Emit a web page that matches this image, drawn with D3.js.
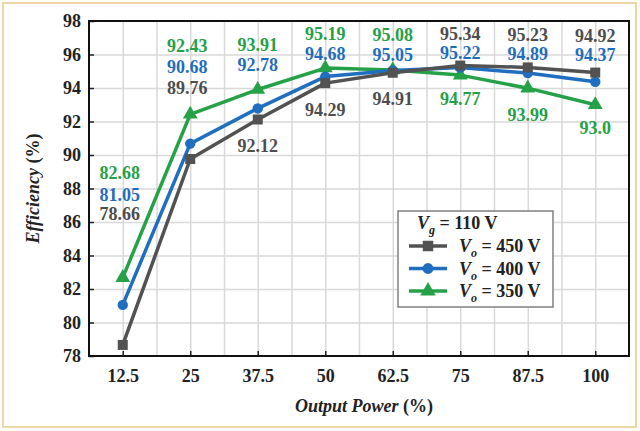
<!DOCTYPE html>
<html>
<head>
<meta charset="utf-8">
<script src="https://cdn.jsdelivr.net/npm/d3@7"></script>
<style>
  html, body { margin: 0; padding: 0; background: #ffffff; }
  svg { display: block; }
  text { font-family: "Liberation Serif", "Times New Roman", serif; font-weight: bold; }
</style>
</head>
<body>
<svg id="chart" width="640" height="431"></svg>
<script>
// ---- data ----
const categories = [12.5, 25, 37.5, 50, 62.5, 75, 87.5, 100];
const yTicks = [78, 80, 82, 84, 86, 88, 90, 92, 94, 96, 98];
const vo450 = [78.66, 89.76, 92.12, 94.29, 94.91, 95.34, 95.23, 94.92];
const vo400 = [81.05, 90.68, 92.78, 94.68, 95.05, 95.22, 94.89, 94.37];
const vo350 = [82.68, 92.43, 93.91, 95.19, 95.08, 94.77, 93.99, 93.0];
const labels450 = ["78.66", "89.76", "92.12", "94.29", "94.91", "95.34", "95.23", "94.92"];
const labels400 = ["81.05", "90.68", "92.78", "94.68", "95.05", "95.22", "94.89", "94.37"];
const labels350 = ["82.68", "92.43", "93.91", "95.19", "95.08", "94.77", "93.99", "93.0"];
// label placement (centre of text, in efficiency units)
const labelAt450 = [86.48, 94.0, 90.54, 92.69, 93.34, 97.22, 97.16, 97.10];
const labelAt400 = [87.61, 95.25, 95.37, 96.03, 95.97, 96.09, 96.03, 95.97];
const labelAt350 = [88.93, 96.51, 96.57, 97.22, 97.16, 93.34, 92.39, 91.61];

const series = [
  { name: "350", values: vo350, labels: labels350, labelAt: labelAt350, color: "#25a247", text: "#25a046", symbol: d3.symbolTriangle, size: 95 },
  { name: "400", values: vo400, labels: labels400, labelAt: labelAt400, color: "#1f6ec0", text: "#1f6dbd", symbol: d3.symbolCircle, size: 85 },
  { name: "450", values: vo450, labels: labels450, labelAt: labelAt450, color: "#525252", text: "#4d4d4d", symbol: d3.symbolSquare, size: 100 }
];

const svg = d3.select("#chart");
const pLeft = 89, pRight = 629, pTop = 21, pBottom = 356;
const x = d3.scaleLinear().domain([6.25, 106.25]).range([pLeft, pRight]);
const y = d3.scaleLinear().domain([78, 98]).range([pBottom, pTop]);

// outer border
svg.append("rect").attr("x", 3).attr("y", 3).attr("width", 633).attr("height", 424)
  .attr("fill", "#ffffff").attr("stroke", "#efd7a5").attr("stroke-width", 2);

// grid
const gridX = d3.range(12.5, 106, 6.25);
svg.append("g").attr("transform", `translate(0,${pBottom})`)
  .call(d3.axisBottom(x).tickValues(gridX).tickSize(-(pBottom - pTop)).tickFormat(""))
  .call(g => g.select(".domain").remove())
  .call(g => g.selectAll("line").attr("stroke", "#d9d9d9").attr("stroke-width", 1.5));
svg.append("g").attr("transform", `translate(${pLeft},0)`)
  .call(d3.axisLeft(y).tickValues(yTicks.slice(1, -1)).tickSize(-(pRight - pLeft)).tickFormat(""))
  .call(g => g.select(".domain").remove())
  .call(g => g.selectAll("line").attr("stroke", "#d9d9d9").attr("stroke-width", 1.5));

// axes
const yAxis = svg.append("g").attr("transform", `translate(${pLeft},0)`)
  .call(d3.axisLeft(y).tickValues(yTicks).tickSizeInner(-5).tickSizeOuter(0).tickPadding(8).tickFormat(d3.format("d")));
yAxis.select(".domain").remove();
yAxis.selectAll("line").attr("stroke", "#222").attr("stroke-width", 1.5);
yAxis.selectAll("text").attr("font-size", 18).attr("fill", "#222")
  .style("font-family", "'Liberation Serif', serif").style("font-weight", "bold");

const xAxis = svg.append("g").attr("transform", `translate(0,${pBottom})`)
  .call(d3.axisBottom(x).tickValues(categories).tickSizeInner(-5).tickSizeOuter(0).tickPadding(13).tickFormat(d => String(d)));
xAxis.select(".domain").remove();
xAxis.selectAll("line").attr("stroke", "#222").attr("stroke-width", 1.5);
xAxis.selectAll("text").attr("font-size", 18).attr("fill", "#222")
  .style("font-family", "'Liberation Serif', serif").style("font-weight", "bold");

// series lines
const line = d3.line().x((d, i) => x(categories[i])).y(d => y(d));
series.forEach(s => {
  svg.append("path").datum(s.values).attr("d", line)
    .attr("fill", "none").attr("stroke", s.color).attr("stroke-width", 3.5).attr("stroke-linejoin", "round");
  svg.append("g").selectAll("path").data(s.values).join("path")
    .attr("transform", (d, i) => `translate(${x(categories[i])},${y(d)})`)
    .attr("d", d3.symbol().type(s.symbol).size(s.size))
    .attr("fill", s.color);
});

// data labels
series.forEach(s => {
  svg.append("g").selectAll("text").data(s.labels).join("text")
    .attr("x", (d, i) => x(categories[i]) - (i < 2 ? 3 : 0))
    .attr("y", (d, i) => y(s.labelAt[i]))
    .attr("dy", "0.34em")
    .attr("text-anchor", "middle")
    .attr("font-size", 18)
    .attr("fill", s.text)
    .text(d => d);
});

// frame
svg.append("rect").attr("x", pLeft).attr("y", pTop).attr("width", pRight - pLeft).attr("height", pBottom - pTop)
  .attr("fill", "none").attr("stroke", "#111").attr("stroke-width", 2);

// axis titles
const xt = svg.append("text").attr("x", (pLeft + pRight) / 2 + 5).attr("y", 412)
  .attr("text-anchor", "middle").attr("font-size", 18).attr("fill", "#222");
xt.append("tspan").attr("font-style", "italic").text("Output Power");
xt.append("tspan").text(" (%)");

const yt = svg.append("text").attr("transform", `translate(39,${(pTop + pBottom) / 2}) rotate(-90)`)
  .attr("text-anchor", "middle").attr("font-size", 18).attr("fill", "#222");
yt.append("tspan").attr("font-style", "italic").text("Efficiency");
yt.append("tspan").text(" (%)");

// legend
const lg = svg.append("g");
lg.append("rect").attr("x", 398).attr("y", 211).attr("width", 155).attr("height", 96)
  .attr("fill", "#ffffff").attr("stroke", "#808080").attr("stroke-width", 1.5);
const vg = lg.append("text").attr("x", 417).attr("y", 229).attr("font-size", 18).attr("fill", "#222");
vg.append("tspan").attr("font-style", "italic").text("V");
vg.append("tspan").attr("font-style", "italic").attr("font-size", 12).attr("dy", 5).text("g");
vg.append("tspan").attr("dy", -5).text(" = 110 V");

const legendSeries = [series[2], series[1], series[0]];
const legendVo = ["450", "400", "350"];
legendSeries.forEach((s, i) => {
  const cy = 246 + i * 22.5;
  lg.append("line").attr("x1", 409).attr("x2", 447).attr("y1", cy).attr("y2", cy)
    .attr("stroke", s.color).attr("stroke-width", 3.5);
  lg.append("path").attr("transform", `translate(428,${cy})`)
    .attr("d", d3.symbol().type(s.symbol).size(s.size * 1.1)).attr("fill", s.color);
  const t = lg.append("text").attr("x", 459).attr("y", cy + 6).attr("font-size", 18).attr("fill", "#222");
  t.append("tspan").attr("font-style", "italic").text("V");
  t.append("tspan").attr("font-style", "italic").attr("font-size", 12).attr("dy", 5).text("o");
  t.append("tspan").attr("dy", -5).text(" = " + legendVo[i] + " V");
});
</script>
</body>
</html>
